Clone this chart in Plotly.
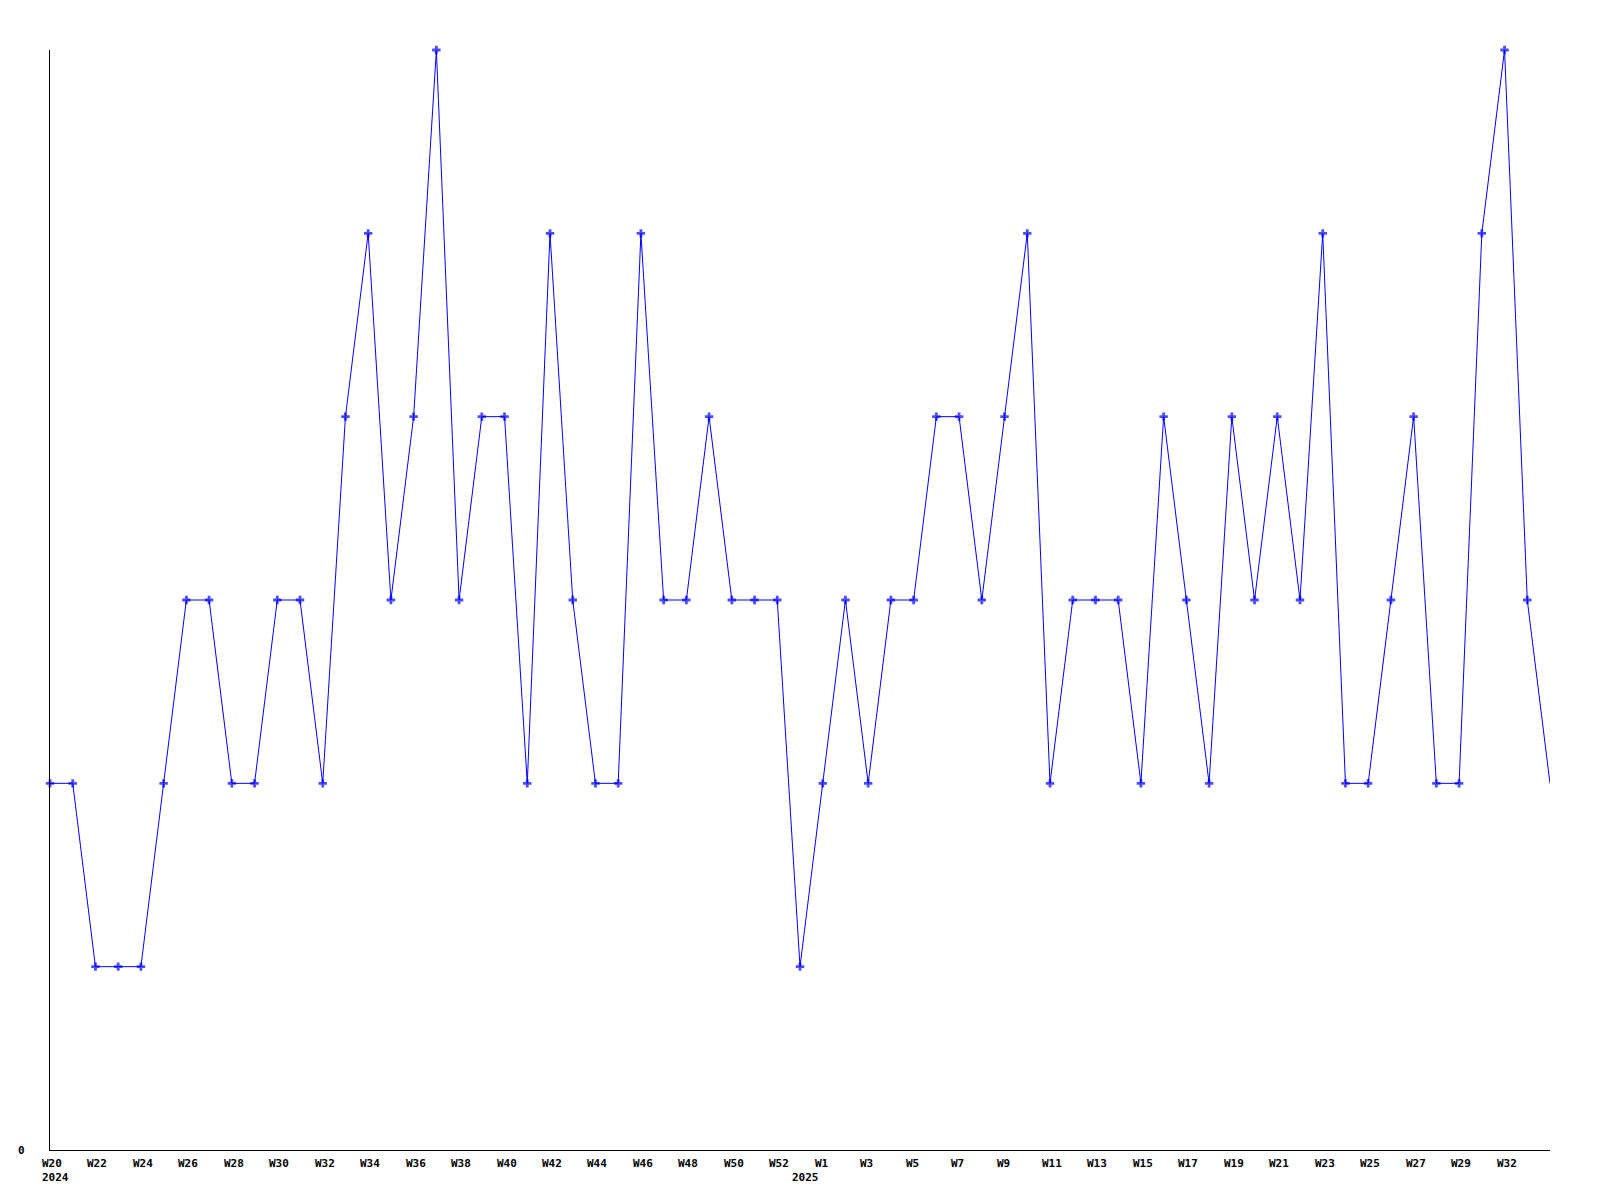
import plotly.graph_objects as go

# weekly counts, 2024 W20 .. 2025 W34 (67 points)
values = [2, 2, 1, 1, 1, 2, 3, 3, 2, 2, 3, 3, 2, 4, 5, 3, 4, 6, 3, 4,
          4, 2, 5, 3, 2, 2, 5, 3, 3, 4, 3, 3, 3, 1, 2, 3, 2, 3, 3, 4,
          4, 3, 4, 5, 2, 3, 3, 3, 2, 4, 3, 2, 4, 3, 4, 3, 5, 2, 2, 3,
          4, 2, 2, 5, 6, 3, 2]
x_idx = list(range(len(values)))

tick_labels = ["W20", "W22", "W24", "W26", "W28", "W30", "W32", "W34", "W36",
               "W38", "W40", "W42", "W44", "W46", "W48", "W50", "W52", "W1",
               "W3", "W5", "W7", "W9", "W11", "W13", "W15", "W17", "W19",
               "W21", "W23", "W25", "W27", "W29", "W32"]
tick_pos = [2 * i for i in range(len(tick_labels))]
year_labels = ["2024", "2025"]
year_pos = [0, 33]

FONT = dict(family="DejaVu Sans Mono", size=11, color="black")

marker_sizes = [7] * len(values)
marker_sizes[-1] = 0

fig = go.Figure()
fig.add_trace(go.Scatter(
    x=x_idx, y=values, mode="lines+markers",
    line=dict(color="#0000ff", width=1),
    marker=dict(symbol="cross", size=marker_sizes, color="#0000ff",
                line=dict(width=0)),
    cliponaxis=False, hoverinfo="skip", showlegend=False,
))

annotations = []
for p, t in zip(tick_pos, tick_labels):
    annotations.append(dict(x=p, y=0, xref="x", yref="paper", text="<b>%s</b>" % t,
                            showarrow=False, xanchor="left", yanchor="top",
                            xshift=-10, yshift=-5, font=FONT))
for p, t in zip(year_pos, year_labels):
    annotations.append(dict(x=p, y=0, xref="x", yref="paper", text="<b>%s</b>" % t,
                            showarrow=False, xanchor="left", yanchor="top",
                            xshift=-10, yshift=-19, font=FONT))
annotations.append(dict(x=0, y=0, xref="paper", yref="y", text="<b>0</b>",
                        showarrow=False, xanchor="right", yanchor="middle",
                        xshift=-23, font=FONT))

fig.update_layout(
    width=1600, height=1200, autosize=False,
    margin=dict(l=42, r=58, t=42, b=58),
    paper_bgcolor="white", plot_bgcolor="white",
    xaxis=dict(range=[0, len(values) - 1], showgrid=False, zeroline=False,
               showticklabels=False, ticks="", showline=True,
               linecolor="black", linewidth=1),
    yaxis=dict(range=[0, 6], showgrid=False, zeroline=False,
               showticklabels=False, ticks="", showline=True,
               linecolor="black", linewidth=1),
    annotations=annotations,
)

fig.write_html("out.html")
